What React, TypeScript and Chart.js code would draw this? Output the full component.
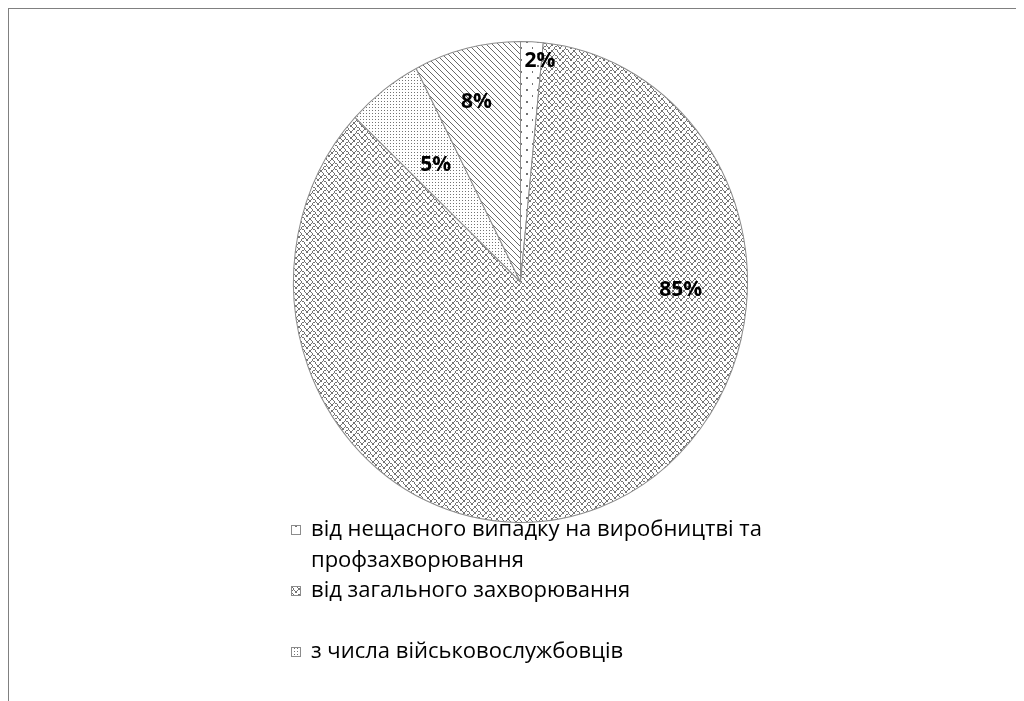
import React, { useEffect, useRef } from 'react';
import { Chart, registerables } from 'chart.js';

Chart.register(...registerables);

// ---- data ----
const categories: string[] = [
  'від нещасного випадку на виробництві та профзахворювання',
  'від загального захворювання',
  'з числа військовослужбовців',
  'інші',
];
const shares: number[] = [1.6, 85.4, 5.4, 7.6];

// ---- styling ----
const SY = 241 / 227.5; // vertical stretch of the pie (ellipse)
const GRAY = '#737373';
const FONT = '"Open Sans", "Noto Sans", sans-serif';

// 8x8 preset fill bitmaps (one byte per row, MSB = left)
const PAT_PCT5 = [0x80, 0x00, 0x00, 0x00, 0x08, 0x00, 0x00, 0x00];
const PAT_WEAVE = [0x88, 0x54, 0x22, 0x45, 0x88, 0x14, 0x22, 0x51];

function tileCanvas(w: number, h: number, color: string, draw: (set: (x: number, y: number) => void) => void) {
  const c = document.createElement('canvas');
  c.width = w;
  c.height = h;
  const x = c.getContext('2d')!;
  x.fillStyle = '#ffffff';
  x.fillRect(0, 0, w, h);
  x.fillStyle = color;
  draw((px, py) => x.fillRect(px, py, 1, 1));
  const ctx = document.createElement('canvas').getContext('2d')!;
  return ctx.createPattern(c, 'repeat')!;
}

function makeBitmapPattern(bits: number[], w: number, h: number, color = GRAY) {
  return tileCanvas(w, h, color, (set) => {
    for (let ty = 0; ty < h; ty++) {
      for (let tx = 0; tx < w; tx++) {
        const sx = Math.floor((tx * 8) / w);
        const sy = Math.floor((ty * 8) / h);
        if ((bits[sy] >> (7 - sx)) & 1) set(tx, ty);
      }
    }
  });
}

function buildPatterns() {
  return [
    makeBitmapPattern(PAT_PCT5, 11, 12),
    makeBitmapPattern(PAT_WEAVE, 11, 12),
    tileCanvas(3, 3, GRAY, (set) => set(0, 0)),
    tileCanvas(6, 6, '#6a6a6a', (set) => {
      for (let i = 0; i < 6; i++) set(i, i);
    }),
  ];
}

const ellipsePlugin = {
  id: 'ellipse',
  beforeDatasetsDraw(chart: any) {
    const a = chart.getDatasetMeta(0).data[0];
    if (!a) return;
    const ctx = chart.ctx;
    const shift = a.y * (1 - SY);
    const ty = (Math.round(shift) - shift) / SY;
    (chart.data.datasets[0].backgroundColor as any[]).forEach((p: any) => {
      try {
        p.setTransform(new DOMMatrix([1, 0, 0, 1 / SY, 0, ty]));
      } catch (e) {}
    });
    ctx.save();
    ctx.translate(a.x, a.y);
    ctx.scale(1, SY);
    ctx.translate(-a.x, -a.y);
  },
  afterDatasetsDraw(chart: any) {
    chart.ctx.restore();
    (chart.data.datasets[0].backgroundColor as any[]).forEach((p: any) => {
      try {
        p.setTransform(new DOMMatrix());
      } catch (e) {}
    });
  },
};

const labelPlacement: [number, number][] = [
  [0.92, 0.925],
  [0.283, 0.707],
  [0.48, 0.614],
  [0.47, 0.773],
];

const labelsPlugin = {
  id: 'pctLabels',
  afterDraw(chart: any) {
    const ctx = chart.ctx;
    const meta = chart.getDatasetMeta(0);
    const vals = chart.data.datasets[0].data as number[];
    const total = vals.reduce((s, v) => s + v, 0);
    ctx.save();
    ctx.font = `bold 21px ${FONT}`;
    ctx.fillStyle = '#000';
    ctx.textAlign = 'center';
    ctx.textBaseline = 'middle';
    meta.data.forEach((arc: any, i: number) => {
      const [f, rf] = labelPlacement[i];
      const ang = arc.startAngle + (arc.endAngle - arc.startAngle) * f;
      const R = arc.outerRadius * rf;
      const px = arc.x + Math.cos(ang) * R;
      const py = arc.y + Math.sin(ang) * R * SY;
      ctx.fillText(Math.round((vals[i] / total) * 100) + '%', px, py);
    });
    ctx.restore();
  },
};

const legendPlugin = {
  id: 'wrapLegend',
  afterDraw(chart: any) {
    const ctx = chart.ctx;
    const ds = chart.data.datasets[0];
    const labels = chart.data.labels as string[];
    const boxX = 282;
    const textX = 302;
    const y0 = 521;
    const lineH = 30.5;
    const maxW = 480;
    ctx.save();
    ctx.font = `22px ${FONT}`;
    ctx.textBaseline = 'middle';
    ctx.textAlign = 'left';
    labels.forEach((lab, i) => {
      const y = y0 + i * lineH * 2;
      ctx.fillStyle = ds.backgroundColor[i];
      ctx.fillRect(boxX, y - 5, 10, 10);
      ctx.strokeStyle = '#8c8c8c';
      ctx.lineWidth = 1;
      ctx.strokeRect(boxX + 0.5, y - 4.5, 9, 9);
      const words = lab.split(' ');
      const lines: string[] = [];
      let cur = '';
      words.forEach((w) => {
        const t = cur ? cur + ' ' + w : w;
        if (ctx.measureText(t).width > maxW && cur) {
          lines.push(cur);
          cur = w;
        } else cur = t;
      });
      if (cur) lines.push(cur);
      ctx.fillStyle = '#000';
      lines.forEach((ln, k) => ctx.fillText(ln, textX, y + k * lineH));
    });
    ctx.restore();
  },
};

export default function App() {
  const ref = useRef<HTMLCanvasElement>(null);
  useEffect(() => {
    const canvas = ref.current!;
    const patterns = buildPatterns();
    const chart = new Chart(canvas, {
      type: 'pie',
      data: {
        labels: categories,
        datasets: [
          {
            data: shares,
            backgroundColor: patterns as any,
            borderColor: '#8c8c8c',
            borderWidth: 1,
            hoverOffset: 0,
            offset: 0,
            clip: false as any,
          },
        ],
      },
      options: {
        responsive: false,
        animation: false,
        events: [],
        layout: { padding: { top: 45.5, bottom: 191.5, left: 284, right: 276 } },
        plugins: {
          legend: { display: false },
          tooltip: { enabled: false },
        },
      },
      plugins: [ellipsePlugin, labelsPlugin, legendPlugin],
    });
    return () => chart.destroy();
  }, []);
  return (
    <div
      style={{
        width: 1015,
        height: 692,
        borderTop: '1px solid #808080',
        borderLeft: '1px solid #808080',
        background: '#fff',
        overflow: 'hidden',
      }}
    >
      <canvas ref={ref} width={1015} height={692} style={{ display: 'block' }} />
    </div>
  );
}
